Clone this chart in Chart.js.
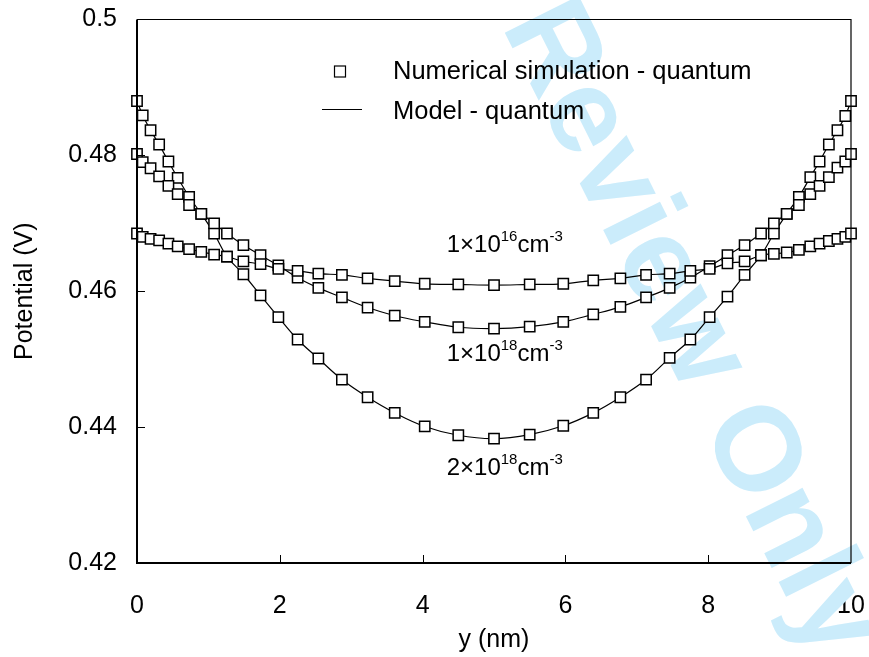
<!DOCTYPE html>
<html><head><meta charset="utf-8">
<script src="https://cdn.jsdelivr.net/npm/chart.js@4/dist/chart.umd.min.js"></script>
<style>html,body{margin:0;padding:0;background:#fff;}#wrap{width:869px;height:657px;}</style>
</head><body><div id="wrap"><canvas id="c" width="869" height="657"></canvas></div>
<script>
const xNm = [0,0.08,0.19,0.31,0.44,0.57,0.73,0.90,1.08,1.26,1.49,1.73,1.98,2.25,2.54,2.87,3.23,3.61,4.03,4.50,5.0,5.50,5.97,6.39,6.77,7.13,7.46,7.75,8.02,8.27,8.51,8.74,8.92,9.10,9.27,9.43,9.56,9.69,9.81,9.92,10];
const sim2e18 = [0.4880,0.4859,0.4837,0.4816,0.4791,0.4767,0.4739,0.4714,0.4685,0.4651,0.4625,0.4594,0.4562,0.4529,0.4501,0.4470,0.4444,0.4421,0.4401,0.4388,0.4383,0.4389,0.4402,0.4421,0.4444,0.4470,0.4502,0.4529,0.4562,0.4592,0.4624,0.4653,0.4685,0.4714,0.4739,0.4768,0.4791,0.4816,0.4837,0.4858,0.4880];
const sim1e18 = [0.4802,0.4790,0.4781,0.4769,0.4755,0.4743,0.4727,0.4714,0.4700,0.4685,0.4668,0.4653,0.4638,0.4620,0.4605,0.4591,0.4576,0.4564,0.4555,0.4547,0.4545,0.4548,0.4555,0.4566,0.4577,0.4591,0.4605,0.4620,0.4637,0.4653,0.4668,0.4685,0.4700,0.4714,0.4727,0.4743,0.4755,0.4768,0.4782,0.4791,0.4802];
const sim1e16 = [0.4685,0.4680,0.4677,0.4675,0.4670,0.4666,0.4662,0.4658,0.4654,0.4651,0.4644,0.4640,0.4633,0.4630,0.4626,0.4624,0.4619,0.4615,0.4611,0.4610,0.4609,0.4610,0.4611,0.4616,0.4619,0.4624,0.4626,0.4630,0.4633,0.4641,0.4644,0.4653,0.4655,0.4657,0.4661,0.4666,0.4670,0.4674,0.4677,0.4680,0.4685];
const xTicks = [0,2,4,6,8,10];
const yTicks = [0.42,0.44,0.46,0.48,0.5];
const seriesLabels = [["1×10","16","cm","-3"],["1×10","18","cm","-3"],["2×10","18","cm","-3"]];
const legendTexts = ["Numerical simulation - quantum","Model - quantum"];

const FONT = "'Liberation Sans', Arial, sans-serif";
const pts = arr => xNm.map((x,i)=>({x:x,y:arr[i]}));
const simStyle = {showLine:false,pointStyle:'rect',pointRadius:7.3,pointHoverRadius:7.3,pointBackgroundColor:'#fff',pointBorderColor:'#000',pointBorderWidth:1.5,clip:false,order:0};
const lineStyle = {showLine:true,pointRadius:0,borderColor:'#000',borderWidth:1.2,tension:0.4,clip:false,order:1};
const noPad = s => { s.paddingTop=0; s.paddingBottom=0; s.paddingLeft=0; s.paddingRight=0; };

const framePlugin = {
  id:'frame',
  beforeDatasetsDraw(chart){
    const ctx=chart.ctx;
    ctx.save();
    ctx.beginPath(); ctx.rect(0,0,869,657); ctx.clip();
    ctx.translate(690,330); ctx.rotate(63.5*Math.PI/180);
    ctx.font = "bold 120px "+FONT; ctx.fillStyle='#cbecfb';
    ctx.textAlign='center'; ctx.textBaseline='middle';
    ctx.fillText('Review Only',0,0);
    ctx.restore();
  },
  afterDatasetsDraw(chart){
    const ctx=chart.ctx, xs=chart.scales.x, ys=chart.scales.y;
    ctx.save();
    const pos = [[5.15,0.4671],[5.15,0.4510],[5.15,0.4343]];
    seriesLabels.forEach((p,i)=>{
      const big="24px "+FONT, small="15px "+FONT;
      ctx.font=big; const w0=ctx.measureText(p[0]).width, w2=ctx.measureText(p[2]).width;
      ctx.font=small; const w1=ctx.measureText(p[1]).width, w3=ctx.measureText(p[3]).width;
      const tot=w0+w1+w2+w3;
      let x=xs.getPixelForValue(pos[i][0])-tot/2; const y=ys.getPixelForValue(pos[i][1]);
      ctx.fillStyle='#000'; ctx.textAlign='left'; ctx.textBaseline='alphabetic';
      ctx.font=big; ctx.fillText(p[0],x,y+9); x+=w0;
      ctx.font=small; ctx.fillText(p[1],x,y-2); x+=w1;
      ctx.font=big; ctx.fillText(p[2],x,y+9); x+=w2;
      ctx.font=small; ctx.fillText(p[3],x,y-2);
    });
    ctx.strokeStyle='#000'; ctx.lineWidth=1.2; ctx.fillStyle='#fff';
    ctx.fillRect(334.5,66,11,11); ctx.strokeRect(334.5,66,11,11);
    ctx.beginPath(); ctx.moveTo(322,109.5); ctx.lineTo(362,109.5); ctx.stroke();
    ctx.fillStyle='#000'; ctx.font="25.5px "+FONT; ctx.textAlign='left'; ctx.textBaseline='middle';
    ctx.fillText(legendTexts[0],393,72);
    ctx.fillText(legendTexts[1],393,112);
    ctx.restore();
  },
  afterDraw(chart){
    const ctx=chart.ctx, a=chart.chartArea, xs=chart.scales.x, ys=chart.scales.y;
    ctx.save(); ctx.strokeStyle='#000';
    ctx.lineWidth=1.2; ctx.beginPath();
    ctx.moveTo(a.left,a.top); ctx.lineTo(a.right,a.top); ctx.lineTo(a.right,a.bottom); ctx.stroke();
    ctx.lineWidth=2; ctx.beginPath();
    ctx.moveTo(a.left,a.top); ctx.lineTo(a.left,a.bottom); ctx.lineTo(a.right,a.bottom); ctx.stroke();
    ctx.lineWidth=1; ctx.beginPath();
    xTicks.slice(1,-1).forEach(v=>{const px=Math.round(xs.getPixelForValue(v))+0.5; ctx.moveTo(px,a.bottom); ctx.lineTo(px,a.bottom-8);});
    yTicks.slice(1,-1).forEach(v=>{const py=Math.round(ys.getPixelForValue(v))+0.5; ctx.moveTo(a.left,py); ctx.lineTo(a.left+8,py);});
    ctx.stroke(); ctx.restore();
  }
};

new Chart(document.getElementById('c'),{
  type:'scatter',
  data:{datasets:[
    Object.assign({label:'sim 1e16',data:pts(sim1e16)},simStyle),
    Object.assign({label:'sim 1e18',data:pts(sim1e18)},simStyle),
    Object.assign({label:'sim 2e18',data:pts(sim2e18)},simStyle),
    Object.assign({label:'model 1e16',data:pts(sim1e16)},lineStyle),
    Object.assign({label:'model 1e18',data:pts(sim1e18)},lineStyle),
    Object.assign({label:'model 2e18',data:pts(sim2e18)},lineStyle)
  ]},
  options:{
    responsive:false, animation:false, devicePixelRatio:1,
    layout:{padding:{left:0,right:18,top:19.5,bottom:0}},
    plugins:{legend:{display:false},tooltip:{enabled:false}},
    scales:{
      x:{type:'linear',min:0,max:10,
        afterBuildTicks(s){s.ticks=xTicks.map(v=>({value:v}));},
        afterFit(s){s.height=94; noPad(s);},
        grid:{display:false,drawTicks:false},border:{display:false},
        ticks:{color:'#000',font:{family:FONT,size:25},padding:28,maxRotation:0,callback:v=>String(v)},
        title:{display:true,text:'y (nm)',color:'#000',font:{family:FONT,size:25},padding:{top:0,bottom:2}}},
      y:{type:'linear',min:0.42,max:0.5,
        afterBuildTicks(s){s.ticks=yTicks.map(v=>({value:v}));},
        afterFit(s){s.width=137; noPad(s);},
        grid:{display:false,drawTicks:false},border:{display:false},
        ticks:{color:'#000',font:{family:FONT,size:25},padding:20,callback:v=>String(Number(v.toFixed(2)))},
        title:{display:true,text:'Potential (V)',color:'#000',font:{family:FONT,size:25},padding:{top:10,bottom:0}}}
    }
  },
  plugins:[framePlugin]
});
</script></body></html>
